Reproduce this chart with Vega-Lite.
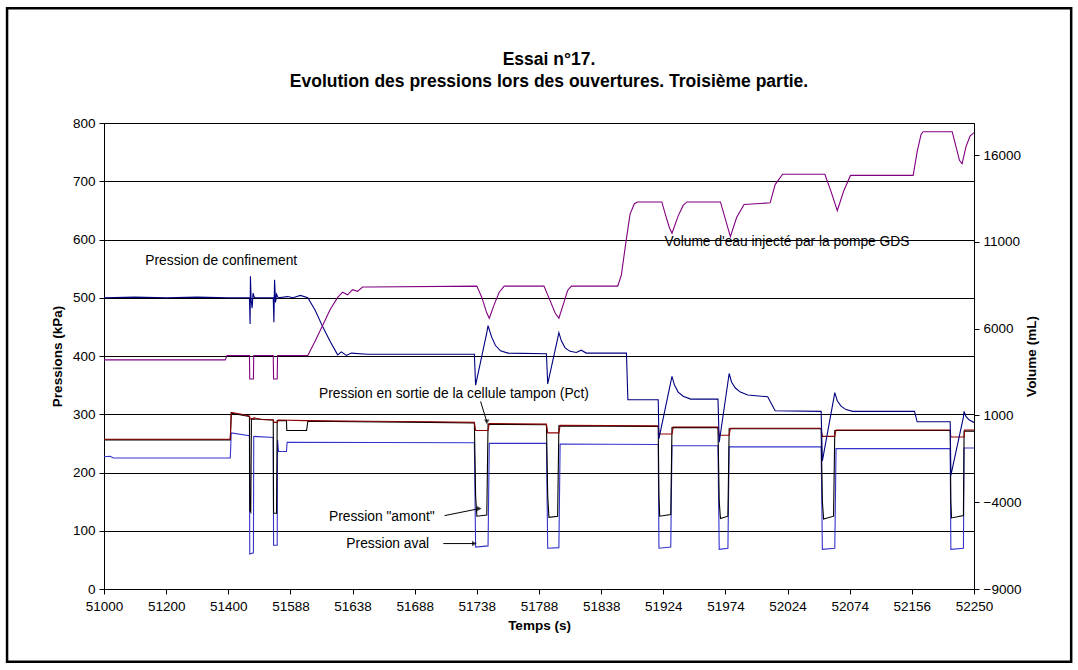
{
  "$schema": "https://vega.github.io/schema/vega-lite/v6.json",
  "width": 870,
  "height": 466,
  "autosize": {"type": "none"},
  "padding": {"left": 104, "top": 123, "right": 104, "bottom": 81},
  "background": "white",
  "title": {
    "text": ["Essai n°17.", "Evolution des pressions lors des ouvertures. Troisième partie."],
    "font": "Liberation Sans", "fontSize": 17.5, "fontWeight": "bold", "color": "black",
    "anchor": "middle", "offset": -84, "lineHeight": 22, "dx": 10
  },
  "config": {
    "font": "Liberation Sans",
    "view": {"stroke": "black", "strokeWidth": 1},
    "axis": {"labelFont": "Liberation Sans", "labelFontSize": 13.5, "labelColor": "black", "titleFont": "Liberation Sans", "titleFontSize": 13.5, "titleFontWeight": "bold", "titleColor": "black", "domainColor": "black", "tickColor": "black", "tickSize": 5}
  },
  "datasets": {
    "pressures": [
      {"series": "aval", "t": 51000, "v": 227}, {"series": "aval", "t": 51020, "v": 228}, {"series": "aval", "t": 51030, "v": 225}, {"series": "aval", "t": 51406, "v": 225}, {"series": "aval", "t": 51409, "v": 268}, {"series": "aval", "t": 51464, "v": 263}, {"series": "aval", "t": 51465, "v": 60}, {"series": "aval", "t": 51476, "v": 62}, {"series": "aval", "t": 51477, "v": 262}, {"series": "aval", "t": 51536, "v": 260}, {"series": "aval", "t": 51537, "v": 75}, {"series": "aval", "t": 51548, "v": 75}, {"series": "aval", "t": 51549, "v": 256}, {"series": "aval", "t": 51552, "v": 236}, {"series": "aval", "t": 51576, "v": 236}, {"series": "aval", "t": 51578, "v": 252}, {"series": "aval", "t": 51736, "v": 251}, {"series": "aval", "t": 51737, "v": 72}, {"series": "aval", "t": 51747, "v": 74}, {"series": "aval", "t": 51748, "v": 250}, {"series": "aval", "t": 51794, "v": 250}, {"series": "aval", "t": 51795, "v": 70}, {"series": "aval", "t": 51804, "v": 71}, {"series": "aval", "t": 51805, "v": 249}, {"series": "aval", "t": 51917, "v": 248}, {"series": "aval", "t": 51918, "v": 70}, {"series": "aval", "t": 51930, "v": 72}, {"series": "aval", "t": 51931, "v": 246}, {"series": "aval", "t": 51968, "v": 246}, {"series": "aval", "t": 51969, "v": 68}, {"series": "aval", "t": 51976, "v": 70}, {"series": "aval", "t": 51977, "v": 244}, {"series": "aval", "t": 52051, "v": 244}, {"series": "aval", "t": 52052, "v": 68}, {"series": "aval", "t": 52062, "v": 70}, {"series": "aval", "t": 52063, "v": 241}, {"series": "aval", "t": 52214, "v": 241}, {"series": "aval", "t": 52215, "v": 68}, {"series": "aval", "t": 52234, "v": 70}, {"series": "aval", "t": 52235, "v": 242}, {"series": "aval", "t": 52250, "v": 242},
      {"series": "amont", "t": 51000, "v": 256}, {"series": "amont", "t": 51406, "v": 256}, {"series": "amont", "t": 51409, "v": 302}, {"series": "amont", "t": 51464, "v": 296}, {"series": "amont", "t": 51465, "v": 135}, {"series": "amont", "t": 51468, "v": 132}, {"series": "amont", "t": 51470, "v": 292}, {"series": "amont", "t": 51536, "v": 290}, {"series": "amont", "t": 51537, "v": 130}, {"series": "amont", "t": 51546, "v": 130}, {"series": "amont", "t": 51548, "v": 289}, {"series": "amont", "t": 51576, "v": 289}, {"series": "amont", "t": 51577, "v": 272}, {"series": "amont", "t": 51601, "v": 272}, {"series": "amont", "t": 51602, "v": 288}, {"series": "amont", "t": 51700, "v": 286}, {"series": "amont", "t": 51736, "v": 285}, {"series": "amont", "t": 51737, "v": 160}, {"series": "amont", "t": 51738, "v": 125}, {"series": "amont", "t": 51746, "v": 127}, {"series": "amont", "t": 51747, "v": 283}, {"series": "amont", "t": 51794, "v": 282}, {"series": "amont", "t": 51795, "v": 160}, {"series": "amont", "t": 51796, "v": 123}, {"series": "amont", "t": 51803, "v": 125}, {"series": "amont", "t": 51804, "v": 280}, {"series": "amont", "t": 51917, "v": 279}, {"series": "amont", "t": 51918, "v": 160}, {"series": "amont", "t": 51919, "v": 125}, {"series": "amont", "t": 51930, "v": 128}, {"series": "amont", "t": 51931, "v": 277}, {"series": "amont", "t": 51968, "v": 277}, {"series": "amont", "t": 51969, "v": 150}, {"series": "amont", "t": 51970, "v": 121}, {"series": "amont", "t": 51976, "v": 125}, {"series": "amont", "t": 51977, "v": 275}, {"series": "amont", "t": 52051, "v": 275}, {"series": "amont", "t": 52052, "v": 150}, {"series": "amont", "t": 52053, "v": 120}, {"series": "amont", "t": 52061, "v": 125}, {"series": "amont", "t": 52062, "v": 272}, {"series": "amont", "t": 52214, "v": 272}, {"series": "amont", "t": 52215, "v": 150}, {"series": "amont", "t": 52216, "v": 122}, {"series": "amont", "t": 52234, "v": 126}, {"series": "amont", "t": 52235, "v": 271}, {"series": "amont", "t": 52250, "v": 271},
      {"series": "Pct", "t": 51000, "v": 257}, {"series": "Pct", "t": 51200, "v": 257}, {"series": "Pct", "t": 51406, "v": 257}, {"series": "Pct", "t": 51409, "v": 303}, {"series": "Pct", "t": 51440, "v": 300}, {"series": "Pct", "t": 51464, "v": 297}, {"series": "Pct", "t": 51466, "v": 292}, {"series": "Pct", "t": 51476, "v": 292}, {"series": "Pct", "t": 51478, "v": 294}, {"series": "Pct", "t": 51500, "v": 291}, {"series": "Pct", "t": 51536, "v": 290}, {"series": "Pct", "t": 51538, "v": 286}, {"series": "Pct", "t": 51548, "v": 286}, {"series": "Pct", "t": 51550, "v": 290}, {"series": "Pct", "t": 51600, "v": 289}, {"series": "Pct", "t": 51650, "v": 288}, {"series": "Pct", "t": 51700, "v": 287}, {"series": "Pct", "t": 51736, "v": 286}, {"series": "Pct", "t": 51737, "v": 272}, {"series": "Pct", "t": 51747, "v": 272}, {"series": "Pct", "t": 51748, "v": 284}, {"series": "Pct", "t": 51794, "v": 283}, {"series": "Pct", "t": 51795, "v": 268}, {"series": "Pct", "t": 51804, "v": 268}, {"series": "Pct", "t": 51805, "v": 281}, {"series": "Pct", "t": 51917, "v": 280}, {"series": "Pct", "t": 51918, "v": 266}, {"series": "Pct", "t": 51931, "v": 266}, {"series": "Pct", "t": 51932, "v": 278}, {"series": "Pct", "t": 51968, "v": 278}, {"series": "Pct", "t": 51969, "v": 264}, {"series": "Pct", "t": 51977, "v": 264}, {"series": "Pct", "t": 51978, "v": 276}, {"series": "Pct", "t": 52051, "v": 276}, {"series": "Pct", "t": 52052, "v": 262}, {"series": "Pct", "t": 52062, "v": 262}, {"series": "Pct", "t": 52063, "v": 273}, {"series": "Pct", "t": 52214, "v": 273}, {"series": "Pct", "t": 52215, "v": 261}, {"series": "Pct", "t": 52235, "v": 261}, {"series": "Pct", "t": 52236, "v": 273}, {"series": "Pct", "t": 52250, "v": 273},
      {"series": "confinement", "t": 51000, "v": 500}, {"series": "confinement", "t": 51100, "v": 501}, {"series": "confinement", "t": 51200, "v": 500}, {"series": "confinement", "t": 51300, "v": 501}, {"series": "confinement", "t": 51400, "v": 500}, {"series": "confinement", "t": 51464, "v": 500}, {"series": "confinement", "t": 51466, "v": 455}, {"series": "confinement", "t": 51467, "v": 537}, {"series": "confinement", "t": 51469, "v": 497}, {"series": "confinement", "t": 51472, "v": 482}, {"series": "confinement", "t": 51475, "v": 508}, {"series": "confinement", "t": 51479, "v": 500}, {"series": "confinement", "t": 51536, "v": 500}, {"series": "confinement", "t": 51538, "v": 458}, {"series": "confinement", "t": 51540, "v": 531}, {"series": "confinement", "t": 51543, "v": 492}, {"series": "confinement", "t": 51546, "v": 506}, {"series": "confinement", "t": 51551, "v": 500}, {"series": "confinement", "t": 51580, "v": 502}, {"series": "confinement", "t": 51590, "v": 500}, {"series": "confinement", "t": 51596, "v": 504}, {"series": "confinement", "t": 51602, "v": 500}, {"series": "confinement", "t": 51608, "v": 478}, {"series": "confinement", "t": 51614, "v": 450}, {"series": "confinement", "t": 51620, "v": 425}, {"series": "confinement", "t": 51626, "v": 402}, {"series": "confinement", "t": 51629, "v": 407}, {"series": "confinement", "t": 51633, "v": 401}, {"series": "confinement", "t": 51637, "v": 405}, {"series": "confinement", "t": 51650, "v": 403}, {"series": "confinement", "t": 51736, "v": 403}, {"series": "confinement", "t": 51737, "v": 350}, {"series": "confinement", "t": 51746, "v": 440}, {"series": "confinement", "t": 51747, "v": 452}, {"series": "confinement", "t": 51750, "v": 432}, {"series": "confinement", "t": 51753, "v": 418}, {"series": "confinement", "t": 51757, "v": 409}, {"series": "confinement", "t": 51763, "v": 405}, {"series": "confinement", "t": 51794, "v": 404}, {"series": "confinement", "t": 51795, "v": 352}, {"series": "confinement", "t": 51803, "v": 430}, {"series": "confinement", "t": 51804, "v": 440}, {"series": "confinement", "t": 51806, "v": 426}, {"series": "confinement", "t": 51809, "v": 414}, {"series": "confinement", "t": 51813, "v": 408}, {"series": "confinement", "t": 51818, "v": 406}, {"series": "confinement", "t": 51822, "v": 410}, {"series": "confinement", "t": 51826, "v": 405}, {"series": "confinement", "t": 51873, "v": 405}, {"series": "confinement", "t": 51875, "v": 325}, {"series": "confinement", "t": 51917, "v": 325}, {"series": "confinement", "t": 51918, "v": 258}, {"series": "confinement", "t": 51930, "v": 355}, {"series": "confinement", "t": 51931, "v": 365}, {"series": "confinement", "t": 51933, "v": 350}, {"series": "confinement", "t": 51936, "v": 338}, {"series": "confinement", "t": 51940, "v": 331}, {"series": "confinement", "t": 51946, "v": 326}, {"series": "confinement", "t": 51968, "v": 326}, {"series": "confinement", "t": 51969, "v": 252}, {"series": "confinement", "t": 51976, "v": 355}, {"series": "confinement", "t": 51977, "v": 370}, {"series": "confinement", "t": 51979, "v": 355}, {"series": "confinement", "t": 51982, "v": 345}, {"series": "confinement", "t": 51986, "v": 338}, {"series": "confinement", "t": 51992, "v": 333}, {"series": "confinement", "t": 52008, "v": 330}, {"series": "confinement", "t": 52014, "v": 306}, {"series": "confinement", "t": 52051, "v": 305}, {"series": "confinement", "t": 52052, "v": 220}, {"series": "confinement", "t": 52061, "v": 325}, {"series": "confinement", "t": 52062, "v": 337}, {"series": "confinement", "t": 52064, "v": 323}, {"series": "confinement", "t": 52067, "v": 314}, {"series": "confinement", "t": 52071, "v": 308}, {"series": "confinement", "t": 52078, "v": 305}, {"series": "confinement", "t": 52160, "v": 305}, {"series": "confinement", "t": 52164, "v": 287}, {"series": "confinement", "t": 52214, "v": 287}, {"series": "confinement", "t": 52215, "v": 195}, {"series": "confinement", "t": 52234, "v": 295}, {"series": "confinement", "t": 52235, "v": 305}, {"series": "confinement", "t": 52238, "v": 296}, {"series": "confinement", "t": 52243, "v": 290}, {"series": "confinement", "t": 52250, "v": 286}
    ],
    "volume": [
      {"t": 51000, "mL": 4200}, {"t": 51390, "mL": 4200}, {"t": 51396, "mL": 4450}, {"t": 51464, "mL": 4450}, {"t": 51465, "mL": 3100}, {"t": 51476, "mL": 3100}, {"t": 51477, "mL": 4450}, {"t": 51536, "mL": 4450}, {"t": 51537, "mL": 3100}, {"t": 51548, "mL": 3100}, {"t": 51549, "mL": 4450}, {"t": 51602, "mL": 4450}, {"t": 51608, "mL": 5300}, {"t": 51614, "mL": 6200}, {"t": 51620, "mL": 7100}, {"t": 51626, "mL": 7800}, {"t": 51630, "mL": 8100}, {"t": 51634, "mL": 7950}, {"t": 51638, "mL": 8250}, {"t": 51642, "mL": 8150}, {"t": 51646, "mL": 8400}, {"t": 51652, "mL": 8400}, {"t": 51738, "mL": 8450}, {"t": 51742, "mL": 7800}, {"t": 51746, "mL": 6900}, {"t": 51748, "mL": 6600}, {"t": 51752, "mL": 7400}, {"t": 51756, "mL": 8100}, {"t": 51760, "mL": 8450}, {"t": 51792, "mL": 8450}, {"t": 51797, "mL": 7600}, {"t": 51801, "mL": 6900}, {"t": 51804, "mL": 6600}, {"t": 51808, "mL": 7500}, {"t": 51811, "mL": 8200}, {"t": 51814, "mL": 8450}, {"t": 51861, "mL": 8450}, {"t": 51866, "mL": 9100}, {"t": 51872, "mL": 10900}, {"t": 51878, "mL": 12600}, {"t": 51884, "mL": 13200}, {"t": 51888, "mL": 13300}, {"t": 51922, "mL": 13300}, {"t": 51926, "mL": 12500}, {"t": 51929, "mL": 11800}, {"t": 51931, "mL": 11500}, {"t": 51936, "mL": 12500}, {"t": 51940, "mL": 13100}, {"t": 51943, "mL": 13300}, {"t": 51970, "mL": 13300}, {"t": 51974, "mL": 12300}, {"t": 51978, "mL": 11300}, {"t": 51983, "mL": 12400}, {"t": 51989, "mL": 13150}, {"t": 52010, "mL": 13250}, {"t": 52014, "mL": 14300}, {"t": 52020, "mL": 14900}, {"t": 52054, "mL": 14900}, {"t": 52059, "mL": 13900}, {"t": 52064, "mL": 12800}, {"t": 52069, "mL": 13900}, {"t": 52075, "mL": 14830}, {"t": 52158, "mL": 14830}, {"t": 52164, "mL": 16200}, {"t": 52170, "mL": 17200}, {"t": 52173, "mL": 17350}, {"t": 52217, "mL": 17350}, {"t": 52222, "mL": 16600}, {"t": 52228, "mL": 15700}, {"t": 52232, "mL": 15500}, {"t": 52238, "mL": 16500}, {"t": 52244, "mL": 17100}, {"t": 52250, "mL": 17300}
    ],
    "labels": [
      {"t": 51133, "v": 563, "label": "Pression de confinement"},
      {"t": 51925, "v": 595, "label": "Volume d'eau injecté par la pompe GDS"},
      {"t": 51611, "v": 334, "label": "Pression en sortie de la cellule tampon (Pct)"},
      {"t": 51619, "v": 124, "label": "Pression \"amont\""},
      {"t": 51633, "v": 78, "label": "Pression aval"}
    ],
    "arrows": [
      {"name": "Pct", "t": 51741, "v": 322, "t2": 51746, "v2": 287},
      {"name": "amont", "t": 51712, "v": 126, "t2": 51740, "v2": 138},
      {"name": "aval", "t": 51711, "v": 78, "t2": 51736, "v2": 78}
    ],
    "frame": [{"t": 50688, "t2": 52397, "v": 997, "v2": -125}]
  },
  "encoding": {
    "x": {
      "field": "t", "type": "quantitative",
      "scale": {
        "domain": [51000, 51200, 51400, 51588, 51638, 51688, 51738, 51788, 51838, 51924, 51974, 52024, 52074, 52156, 52250],
        "range": [0, 62.142857, 124.285714, 186.428571, 248.571429, 310.714286, 372.857143, 435, 497.142857, 559.285714, 621.428571, 683.571429, 745.714286, 807.857143, 870],
        "nice": false, "zero": false
      },
      "axis": {
        "values": [51000, 51200, 51400, 51588, 51638, 51688, 51738, 51788, 51838, 51924, 51974, 52024, 52074, 52156, 52250],
        "format": "d", "grid": false, "title": "Temps (s)", "labelPadding": 5, "titlePadding": 6, "labelOverlap": false, "labelFlush": false
      }
    }
  },
  "layer": [
    {
      "layer": [
        {
          "data": {"name": "pressures"},
          "mark": {"type": "line", "strokeWidth": 1.1, "clip": true},
          "encoding": {
            "y": {"field": "v", "type": "quantitative", "scale": {"domain": [0, 800], "nice": false},
              "axis": {"values": [0, 100, 200, 300, 400, 500, 600, 700, 800], "grid": true, "gridColor": "black", "gridWidth": 1, "title": "Pressions (kPa)", "labelPadding": 4, "titlePadding": 8}},
            "color": {"field": "series", "type": "nominal", "legend": null,
              "scale": {"domain": ["aval", "amont", "Pct", "confinement"], "range": ["#3333CC", "#000000", "#8B0000", "#000080"]}},
            "strokeWidth": {"field": "series", "type": "nominal", "legend": null,
              "scale": {"domain": ["aval", "amont", "Pct", "confinement"], "range": [1, 1, 1.6, 1.1]}}
          }
        },
        {
          "data": {"name": "labels"},
          "mark": {"type": "text", "align": "left", "baseline": "middle", "font": "Liberation Sans", "fontSize": 13.8, "color": "black"},
          "encoding": {"y": {"field": "v", "type": "quantitative"}, "text": {"field": "label"}}
        },
        {
          "data": {"name": "arrows"},
          "mark": {"type": "rule", "color": "black", "strokeWidth": 1},
          "encoding": {"y": {"field": "v", "type": "quantitative"}, "x2": {"field": "t2"}, "y2": {"field": "v2"}}
        },
        {
          "data": {"name": "arrows"},
          "transform": [{"filter": "datum.name === 'Pct'"}],
          "mark": {"type": "point", "shape": "triangle-down", "filled": true, "color": "black", "size": 30},
          "encoding": {"x": {"field": "t2", "type": "quantitative"}, "y": {"field": "v2", "type": "quantitative"}}
        },
        {
          "data": {"name": "arrows"},
          "transform": [{"filter": "datum.name !== 'Pct'"}],
          "mark": {"type": "point", "shape": "triangle-right", "filled": true, "color": "black", "size": 30},
          "encoding": {"x": {"field": "t2", "type": "quantitative"}, "y": {"field": "v2", "type": "quantitative"}}
        },
        {
          "data": {"name": "frame"},
          "mark": {"type": "rect", "filled": false, "stroke": "black", "strokeWidth": 2.5, "clip": false},
          "encoding": {"x2": {"field": "t2"}, "y": {"field": "v", "type": "quantitative"}, "y2": {"field": "v2"}}
        }
      ]
    },
    {
      "data": {"name": "volume"},
      "mark": {"type": "line", "color": "#800080", "strokeWidth": 1.1, "clip": true},
      "encoding": {
        "y": {"field": "mL", "type": "quantitative", "scale": {"domain": [-9000, 17850], "nice": false, "zero": false},
          "axis": {"orient": "right", "values": [-9000, -4000, 1000, 6000, 11000, 16000], "grid": false, "title": "Volume (mL)", "titleAngle": 270, "labelPadding": 4, "titlePadding": 18, "format": "d"}}
      }
    }
  ],
  "resolve": {"scale": {"y": "independent"}}
}
